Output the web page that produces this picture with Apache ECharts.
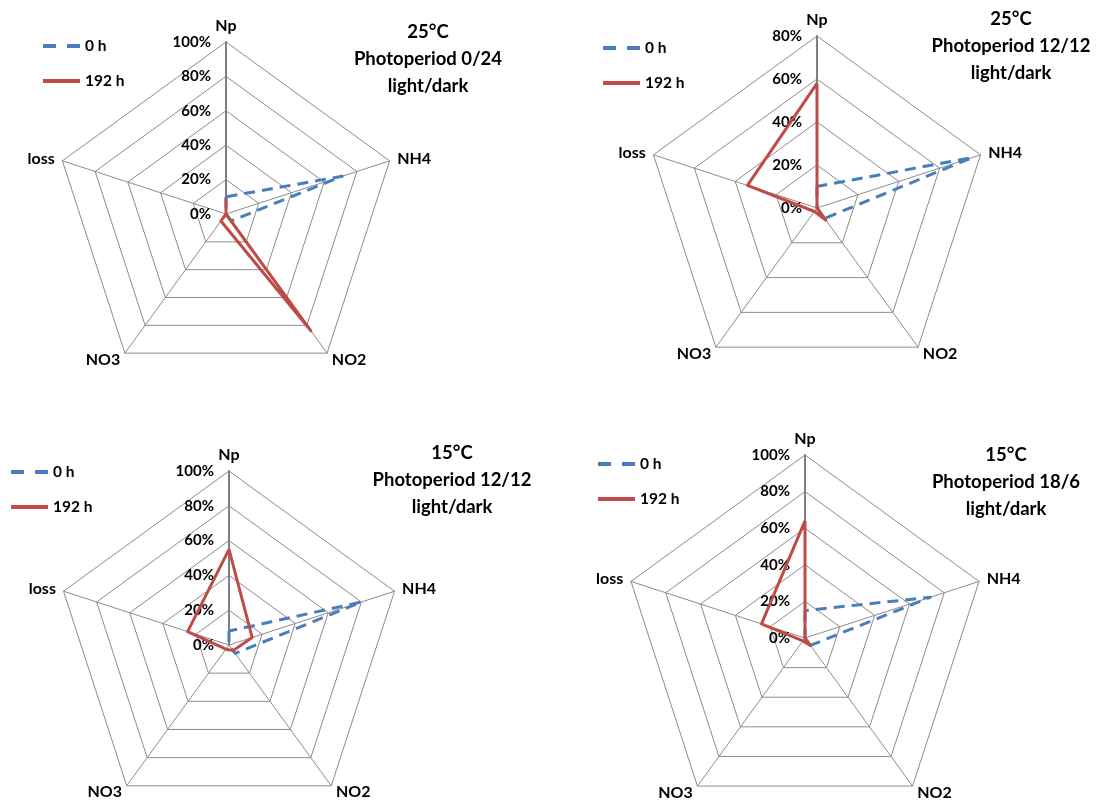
<!DOCTYPE html>
<html>
<head>
<meta charset="utf-8">
<script src="https://cdn.jsdelivr.net/npm/echarts@6/dist/echarts.min.js"></script>
<style>
html,body{margin:0;padding:0;background:#fff;}
#chart{width:1114px;height:803px;}
</style>
</head>
<body>
<div id="chart"></div>
<script>
// ---- data ----
const indicatorNames = ['Np', 'NH4', 'NO2', 'NO3', 'loss'];
const seriesNames = ['0 h', '192 h'];
const panelTitles = [
  '25°C\nPhotoperiod 0/24\nlight/dark',
  '25°C\nPhotoperiod 12/12\nlight/dark',
  '15°C\nPhotoperiod 12/12\nlight/dark',
  '15°C\nPhotoperiod 18/6\nlight/dark'
];
const axisMaxValues = [100, 80, 100, 100];   // percent
const axisSplitCounts = [5, 4, 5, 5];        // ticks every 20%
const tickSuffix = '%';

// values in %, order: Np, NH4, NO2, NO3, loss
const p1_0h   = [10, 71, 5, 0, 0];
const p1_192h = [9, 0, 84, 5, 0];
const p2_0h   = [10, 76, 6, 0, 0];
const p2_192h = [58, 0, 7, 2, 34];
const p3_0h   = [8, 80, 6, 0, 0];
const p3_192h = [55, 14, 4, 3, 25];
const p4_0h   = [15, 72, 5, 0, 0];
const p4_192h = [64, 0, 5, 2, 25];
const panelData = [[p1_0h, p1_192h], [p2_0h, p2_192h], [p3_0h, p3_192h], [p4_0h, p4_192h]];

// ---- layout / style ----
const FONT = 'Lato';
const BLUE = '#4A7EBB';
const RED = '#BE4B48';
const GRID = '#8C8C8C';
const layouts = [
  {center: [226, 214], radius: 172, title: [423, 14], legend: [38, 33]},
  {center: [817, 208], radius: 172, title: [1006, 1], legend: [598, 35]},
  {center: [229, 645], radius: 174, title: [447, 435], legend: [6, 459]},
  {center: [805, 638], radius: 183, title: [1001, 437], legend: [593, 451]}
];
// ECharts lays indicators counter-clockwise; reference is clockwise from top
const ccwOrder = [0, 4, 3, 2, 1];
const reorder = arr => ccwOrder.map(i => arr[i]);

const dashIcon = 'path://M0,0H13V4H0Z M24,0H37V4H24Z';
const solidIcon = 'path://M0,0H37V4H0Z';

const radar = [], series = [], title = [], legend = [];
layouts.forEach((L, k) => {
  radar.push({
    center: L.center,
    radius: L.radius,
    startAngle: 90,
    shape: 'polygon',
    splitNumber: axisSplitCounts[k],
    indicator: reorder(indicatorNames).map((n, i) => (i === 0 ? {
      name: n, min: 0, max: axisMaxValues[k],
      axisLabel: {show: true},
      axisLine: {lineStyle: {color: '#7F7F7F', width: 2}}
    } : {
      name: n, min: 0, max: axisMaxValues[k],
      axisLabel: {show: false}
    })),
    axisName: {color: '#000', fontFamily: FONT, fontWeight: 'bold', fontSize: 16},
    nameGap: 8,
    axisLine: {lineStyle: {color: GRID, width: 1}},
    splitLine: {lineStyle: {color: GRID, width: 1}},
    splitArea: {show: false},
    axisTick: {show: false},
    axisLabel: {
      show: false, color: '#000', fontFamily: FONT, fontWeight: 'bold', fontSize: 15,
      formatter: v => v + tickSuffix, margin: 15, showMinLabel: true, showMaxLabel: true
    }
  });
  const [d0, d1] = panelData[k];
  series.push({
    type: 'radar', radarIndex: k, name: seriesNames[0], symbol: 'none',
    itemStyle: {color: BLUE},
    lineStyle: {color: BLUE, width: 3, type: [11, 7]},
    data: [{name: seriesNames[0], value: reorder(d0)}]
  });
  series.push({
    type: 'radar', radarIndex: k, name: seriesNames[1], symbol: 'none',
    itemStyle: {color: RED},
    lineStyle: {color: RED, width: 3},
    data: [{name: seriesNames[1], value: reorder(d1)}]
  });
  title.push({
    text: panelTitles[k], left: L.title[0], top: L.title[1], textAlign: 'center',
    textStyle: {fontFamily: FONT, fontWeight: 'bold', fontSize: 18.5, lineHeight: 27, color: '#000'}
  });
  legend.push({
    orient: 'vertical', left: L.legend[0], top: L.legend[1],
    itemWidth: 37, itemHeight: 4, itemGap: 19,
    data: [{name: seriesNames[0], icon: dashIcon}, {name: seriesNames[1], icon: solidIcon}],
    textStyle: {fontFamily: FONT, fontWeight: 'bold', fontSize: 15.5, color: '#000'},
    selectedMode: false
  });
});

const chart = echarts.init(document.getElementById('chart'), null, {renderer: 'canvas'});
chart.setOption({animation: false, backgroundColor: '#fff', title, legend, radar, series});
</script>
</body>
</html>
